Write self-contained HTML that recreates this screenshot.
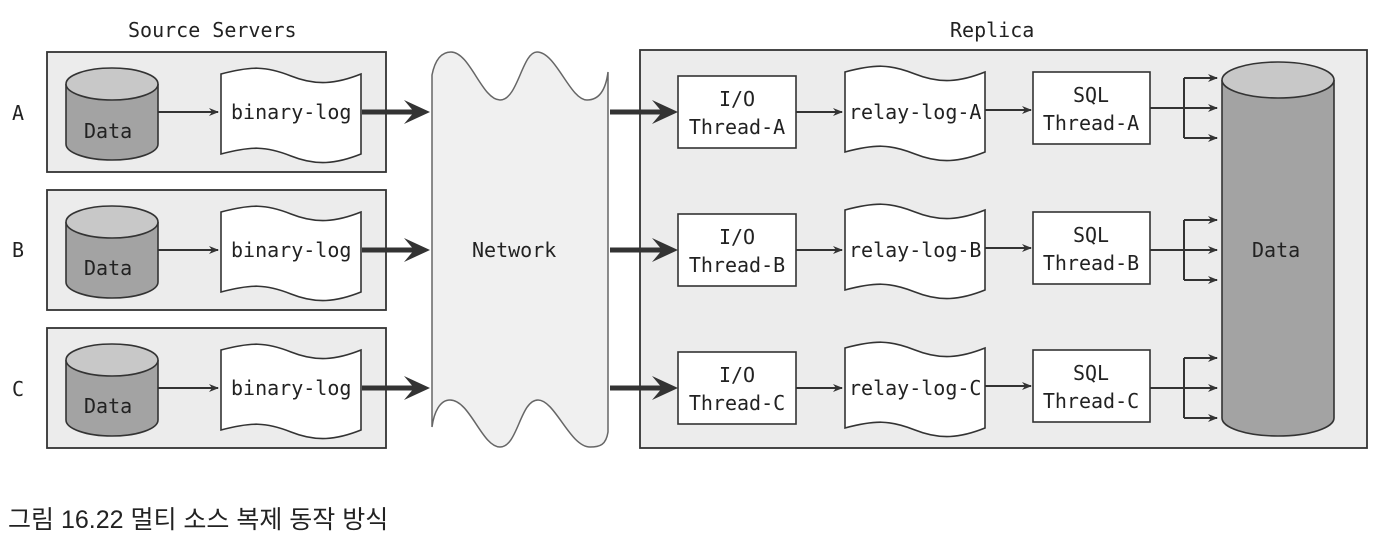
<!DOCTYPE html>
<html><head><meta charset="utf-8"><style>
html,body{margin:0;padding:0;background:#fff;}
svg{display:block}
text{font-family:"DejaVu Sans Mono","Liberation Mono",monospace;font-size:20px;fill:#222;}
.cap{font-family:"Liberation Sans","Noto Sans CJK KR",sans-serif;font-size:25px;fill:#222;}
</style></head><body>
<svg width="1390" height="542" viewBox="0 0 1390 542" xmlns="http://www.w3.org/2000/svg">
<defs>
<marker id="a" markerWidth="10" markerHeight="10" refX="9" refY="5" orient="auto" markerUnits="userSpaceOnUse"><path d="M0,1 L10,5 L0,9 L3,5 Z" fill="#333"/></marker>
<g id="doc">
<path d="M0,0 C30,-8 45,-8 70,2 C95,12 115,10 140,0 L140,80 C115,90 95,92 70,82 C45,72 30,72 0,80 Z" fill="#fff" stroke="#333" stroke-width="1.6"/>
</g>
<g id="cyl">
<path d="M0,0 L0,60 A46,16 0 0 0 92,60 L92,0" fill="#a3a3a3" stroke="#333" stroke-width="1.6"/>
<ellipse cx="46" cy="0" rx="46" ry="16" fill="#c8c8c8" stroke="#333" stroke-width="1.6"/>
</g>
<g id="thick"><path d="M0,-2.5 L50,-2.5 L42,-12 L68,0 L42,12 L50,2.5 L0,2.5 Z" fill="#333"/></g>
</defs>
<text x="128" y="37">Source Servers</text>
<text x="950" y="37">Replica</text>
<text x="12" y="120">A</text>
<text x="12" y="257">B</text>
<text x="12" y="396">C</text>

<g fill="#ececec" stroke="#333" stroke-width="1.8">
<rect x="47" y="52" width="339" height="120"/>
<rect x="47" y="190" width="339" height="120"/>
<rect x="47" y="328" width="339" height="120"/>
<rect x="640" y="50" width="727" height="398"/>
</g>

<path d="M432,75 C436,55 445,52 451,52 C470,52 482,100 500,100 C518,100 522,52 537,52 C556,52 570,100 587,100 C600,100 606,88 608,72 L608,432 C606,445 600,447 590,447 C570,447 555,400 538,400 C520,400 518,447 500,447 C482,447 470,400 450,400 C440,400 434,412 432,427 Z" fill="#f0f0f0" stroke="#666" stroke-width="1.5"/>
<text x="472" y="257">Network</text>

<g>
<use href="#cyl" x="66" y="84"/><text x="84" y="138">Data</text>
<line x1="158" y1="112" x2="218" y2="112" stroke="#333" stroke-width="2" marker-end="url(#a)"/>
<use href="#doc" x="221" y="74"/><text x="231" y="119">binary-log</text>
<use href="#thick" x="362" y="112"/>

<use href="#cyl" x="66" y="222"/><text x="84" y="275">Data</text>
<line x1="158" y1="250" x2="218" y2="250" stroke="#333" stroke-width="2" marker-end="url(#a)"/>
<use href="#doc" x="221" y="212"/><text x="231" y="257">binary-log</text>
<use href="#thick" x="362" y="250"/>

<use href="#cyl" x="66" y="360"/><text x="84" y="413">Data</text>
<line x1="158" y1="388" x2="218" y2="388" stroke="#333" stroke-width="2" marker-end="url(#a)"/>
<use href="#doc" x="221" y="350"/><text x="231" y="395">binary-log</text>
<use href="#thick" x="362" y="388"/>
</g>

<g>
<use href="#thick" x="610" y="112"/>
<use href="#thick" x="610" y="250"/>
<use href="#thick" x="610" y="388"/>
</g>

<g fill="#fff" stroke="#333" stroke-width="1.6">
<rect x="678" y="76" width="118" height="72"/>
<rect x="678" y="214" width="118" height="72"/>
<rect x="678" y="352" width="118" height="72"/>
<rect x="1033" y="72" width="117" height="72"/>
<rect x="1033" y="212" width="117" height="72"/>
<rect x="1033" y="350" width="117" height="72"/>
</g>
<text x="737" y="106" text-anchor="middle">I/O</text><text x="737" y="134" text-anchor="middle">Thread-A</text>
<text x="737" y="244" text-anchor="middle">I/O</text><text x="737" y="272" text-anchor="middle">Thread-B</text>
<text x="737" y="382" text-anchor="middle">I/O</text><text x="737" y="410" text-anchor="middle">Thread-C</text>
<text x="1091" y="102" text-anchor="middle">SQL</text><text x="1091" y="130" text-anchor="middle">Thread-A</text>
<text x="1091" y="242" text-anchor="middle">SQL</text><text x="1091" y="270" text-anchor="middle">Thread-B</text>
<text x="1091" y="380" text-anchor="middle">SQL</text><text x="1091" y="408" text-anchor="middle">Thread-C</text>
<use href="#doc" x="845" y="72"/>
<use href="#doc" x="845" y="210"/>
<use href="#doc" x="845" y="348"/>
<text x="849" y="119">relay-log-A</text>
<text x="849" y="257">relay-log-B</text>
<text x="849" y="395">relay-log-C</text>

<g stroke="#333" stroke-width="2" fill="none">
<line x1="796" y1="112" x2="842" y2="112" marker-end="url(#a)"/>
<line x1="796" y1="250" x2="842" y2="250" marker-end="url(#a)"/>
<line x1="796" y1="388" x2="842" y2="388" marker-end="url(#a)"/>
<line x1="985" y1="110" x2="1031" y2="110" marker-end="url(#a)"/>
<line x1="985" y1="248" x2="1031" y2="248" marker-end="url(#a)"/>
<line x1="985" y1="386" x2="1031" y2="386" marker-end="url(#a)"/>
<path d="M1150,108 L1184,108 M1184,78 L1184,138"/>
<line x1="1184" y1="108" x2="1217" y2="108" marker-end="url(#a)"/>
<line x1="1184" y1="78" x2="1217" y2="78" marker-end="url(#a)"/>
<line x1="1184" y1="138" x2="1217" y2="138" marker-end="url(#a)"/>
<path d="M1150,250 L1184,250 M1184,220 L1184,280"/>
<line x1="1184" y1="250" x2="1217" y2="250" marker-end="url(#a)"/>
<line x1="1184" y1="220" x2="1217" y2="220" marker-end="url(#a)"/>
<line x1="1184" y1="280" x2="1217" y2="280" marker-end="url(#a)"/>
<path d="M1150,388 L1184,388 M1184,358 L1184,418"/>
<line x1="1184" y1="388" x2="1217" y2="388" marker-end="url(#a)"/>
<line x1="1184" y1="358" x2="1217" y2="358" marker-end="url(#a)"/>
<line x1="1184" y1="418" x2="1217" y2="418" marker-end="url(#a)"/>
</g>

<path d="M1222,80 L1222,418 A56,18 0 0 0 1334,418 L1334,80" fill="#a3a3a3" stroke="#333" stroke-width="1.6"/>
<ellipse cx="1278" cy="80" rx="56" ry="18" fill="#c8c8c8" stroke="#333" stroke-width="1.6"/>
<text x="1252" y="257">Data</text>

<text class="cap" x="8" y="528">그림 16.22 멀티 소스 복제 동작 방식</text>
</svg>
</body></html>
